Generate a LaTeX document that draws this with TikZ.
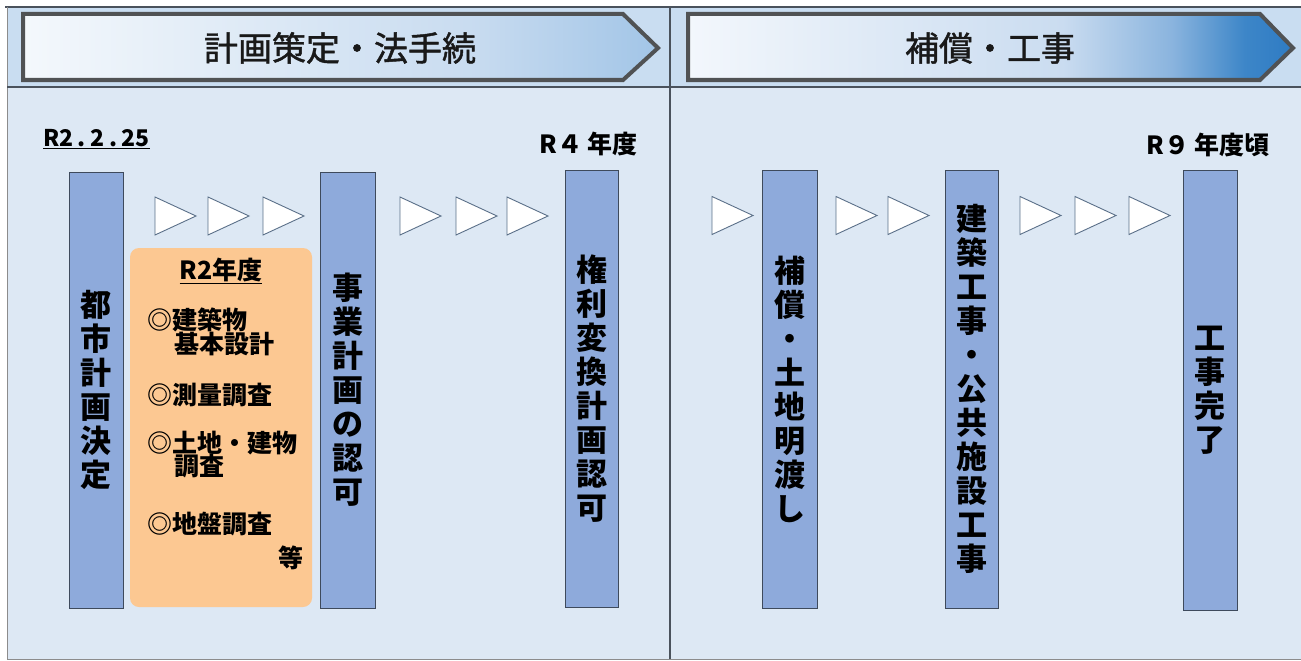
\documentclass[tikz,border=0pt]{standalone}
\usepackage{fontspec}
\newfontfamily\jp{Noto Sans CJK JP}
\newfontfamily\jphdr{Noto Sans CJK JP}[FakeBold=1.3]
\definecolor{hdrbg}{HTML}{C9DDF1}
\definecolor{bodybg}{HTML}{DDE8F4}
\definecolor{frameline}{HTML}{4A525C}
\definecolor{chevline}{HTML}{505254}
\definecolor{barfill}{HTML}{8EAADB}
\definecolor{barline}{HTML}{3E4A5C}
\definecolor{peach}{HTML}{FCC892}
\definecolor{triline}{HTML}{5A6F88}
\definecolor{hAa}{HTML}{F4F8FC}
\definecolor{hAb}{HTML}{C9DCF0}
\definecolor{hAc}{HTML}{A2C5E7}
\definecolor{hBa}{HTML}{F3F7FC}
\definecolor{hBb}{HTML}{CADCF0}
\definecolor{hBc}{HTML}{8AB4DE}
\definecolor{hBd}{HTML}{3D86C8}
\definecolor{hBe}{HTML}{2E7BC3}
\pgfdeclarehorizontalshading{hdrA}{100bp}{color(0bp)=(hAa); color(25bp)=(hAa); color(60bp)=(hAb); color(75bp)=(hAc); color(100bp)=(hAc)}
\pgfdeclarehorizontalshading{hdrB}{100bp}{color(0bp)=(hBa); color(25bp)=(hBa); color(56bp)=(hBb); color(65bp)=(hBc); color(71bp)=(hBd); color(75bp)=(hBe); color(100bp)=(hBe)}
\tikzset{
  bar/.style={draw=barline, fill=barfill, line width=0.9pt, inner sep=0pt,
    minimum width=54pt, minimum height=438pt, align=center,
    font=\jp\bfseries\fontsize{31}{34}\selectfont},
  chev/.style={draw=chevline, line width=4pt, line join=miter},
  hdrtext/.style={inner sep=0pt, font=\jphdr\fontsize{34}{36}\selectfont, text=black!90},
  boxtext/.style={inner sep=0pt, font=\jp\bfseries\fontsize{25}{27}\selectfont},
  datetext/.style={inner sep=0pt, font=\jp\bfseries\fontsize{25}{27}\selectfont},
  tri/.style={draw=triline, fill=white, line width=0.9pt, line join=miter},
  obox/.style={fill=peach, rounded corners=9pt, inner sep=0pt, minimum width=182pt, minimum height=359pt}
}
\begin{document}
\begin{tikzpicture}[x=1pt,y=-1pt]
\useasboundingbox (0,0) rectangle (1301,661);
\fill[white] (0,0) rectangle (1301,661);
% panels
\fill[hdrbg] (7,7) rectangle (1301,87);
\fill[bodybg] (7,87) rectangle (1301,659);
\draw[frameline, line width=1.3pt] (5,7) -- (1301,7);
\draw[black!45, line width=1pt] (7,7) -- (7,659) -- (1301,659);
\draw[frameline, line width=1.1pt] (7,87) -- (1301,87);
\draw[frameline, line width=1.1pt] (670,7) -- (670,659);
% header chevrons
\path[chev, shading=hdrA] (23,14) -- (623,14) -- (658,48) -- (623,80) -- (23,80) -- cycle;
\path[chev, shading=hdrB] (688,14) -- (1260,14) -- (1293,48) -- (1260,80) -- (688,80) -- cycle;
\node[hdrtext] (h1) at (340,48) {計画策定・法手続};
\node[hdrtext] (h2) at (990,48) {補償・工事};
% dates
\node[datetext, anchor=west, font=\jp\bfseries\fontsize{23}{25}\selectfont] (d1) at (43,139) {\underline{R2\kern4.5pt.\kern4.5pt2\kern4.5pt.\kern4.5pt25}};
\node[datetext, anchor=east] (d2) at (638,144) {R４ 年度};
\node[datetext, anchor=east] (d3) at (1270,145) {R９ 年度頃};
% orange box
\node[obox] (prep) at (221,427.5) {};
\node[boxtext, font=\jp\bfseries\fontsize{25}{27}\selectfont] (r2y) at (221,271) {\underline{R2年度}};
\node[boxtext, anchor=west] (l1) at (147,320) {◎建築物};
\node[boxtext, anchor=west] (l2) at (174,344) {基本設計};
\node[boxtext, anchor=west] (l3) at (147,395) {◎測量調査};
\node[boxtext, anchor=west] (l4) at (147,443) {◎土地・建物};
\node[boxtext, anchor=west] (l5) at (174,466) {調査};
\node[boxtext, anchor=west] (l6) at (147,524) {◎地盤調査};
\node[boxtext, anchor=east] (l7) at (304,558) {等};
% bars
\node[bar, minimum height=436pt] (b1) at (96,390) {都\\市\\計\\画\\決\\定};
\node[bar, minimum height=436pt, minimum width=55pt] (b2) at (347.5,390) {事\\業\\計\\画\\の\\認\\可};
\node[bar, minimum width=53pt, minimum height=437pt] (b3) at (591.5,388.5) {権\\利\\変\\換\\計\\画\\認\\可};
\node[bar, minimum width=55pt] (b4) at (789.5,389) {補\\償\\・\\土\\地\\明\\渡\\し};
\node[bar, minimum width=53pt] (b5) at (971.5,389) {建\\築\\工\\事\\・\\公\\共\\施\\設\\工\\事};
\node[bar, minimum width=54pt, minimum height=440pt] (b6) at (1210,390) {工\\事\\完\\了};
% triangles
\foreach \tx/\ty in {155/216, 208/216, 263/216, 400/216, 456/216, 507/216,
                     712/215.5, 836/215.5, 888/215.5, 1020/215.5, 1075/215.5, 1129/215.5}
  \draw[tri] (\tx,\ty-19) -- (\tx+41,\ty) -- (\tx,\ty+19) -- cycle;
\end{tikzpicture}
\end{document}
